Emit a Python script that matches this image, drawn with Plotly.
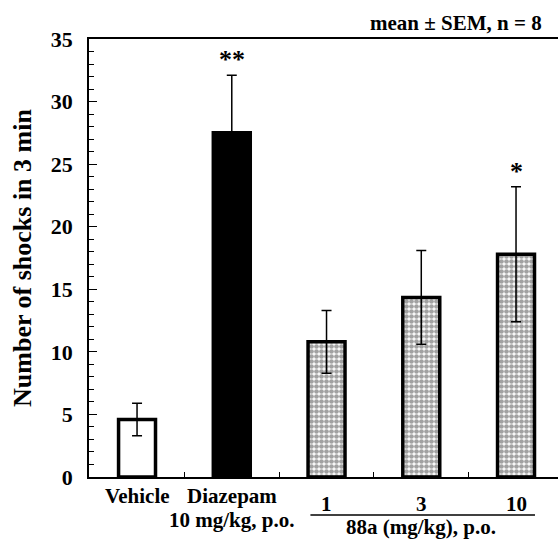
import plotly.graph_objects as go

# Group means and SEM (n = 8)
groups = ["Vehicle", "Diazepam", "88a 1", "88a 3", "88a 10"]
means = [4.6, 27.5, 10.8, 14.35, 17.8]
sems = [1.3, 4.6, 2.5, 3.75, 5.4]
stars = ["", "**", "", "", "*"]
dose_labels = ["1", "3", "10"]
y_ticks = [0, 5, 10, 15, 20, 25, 30, 35]

FONT = "Liberation Serif"
BOLD = dict(family=FONT, size=21, color="black", weight="bold")

xs = list(range(len(groups)))
fill_colors = ["white", "black", "white", "white", "white"]
shapes = ["", "", ".", ".", "."]

fig = go.Figure()
fig.add_trace(go.Bar(
    x=xs, y=means, width=0.39,
    marker=dict(
        color=fill_colors,
        line=dict(color="black", width=3.5),
        pattern=dict(shape=shapes, fgcolor="black", bgcolor="white",
                     size=5, solidity=0.7),
    ),
    error_y=dict(type="data", array=sems, visible=True, color="black",
                 thickness=1.5, width=5),
    showlegend=False,
))

annotations = []
# significance marks above the error bars
for x, m, s, st in zip(xs, means, sems, stars):
    if st:
        annotations.append(dict(x=x, y=m + s, xref="x", yref="y", text=st,
                                showarrow=False, yanchor="bottom", yshift=-1,
                                font=dict(family=FONT, size=26, color="black", weight="bold")))

# category labels under the axis
annotations += [
    dict(x=0, y=0, xref="x", yref="paper", text="Vehicle", showarrow=False,
         yanchor="middle", yshift=-19, font=BOLD),
    dict(x=1, y=0, xref="x", yref="paper", text="Diazepam", showarrow=False,
         yanchor="middle", yshift=-19, font=BOLD),
    dict(x=1, y=0, xref="x", yref="paper", text="10 mg/kg, p.o.", showarrow=False,
         yanchor="middle", yshift=-43, font=BOLD),
]
for x, lab in zip(xs[2:], dose_labels):
    annotations.append(dict(x=x, y=0, xref="x", yref="paper", text=lab, showarrow=False,
                            yanchor="middle", yshift=-27, font=BOLD))
annotations.append(dict(x=3, y=0, xref="x", yref="paper", text="88a (mg/kg), p.o.",
                        showarrow=False, yanchor="middle", yshift=-50, font=BOLD))
annotations.append(dict(x=1, y=1, xref="paper", yref="paper", text="mean ± SEM, n = 8",
                        showarrow=False, xanchor="right", yanchor="middle",
                        xshift=-14, yshift=16, font=BOLD))

fig.update_layout(
    width=558, height=539,
    margin=dict(l=89, r=0, t=39, b=62),
    paper_bgcolor="white", plot_bgcolor="white",
    annotations=annotations,
    shapes=[dict(type="line", xref="x", yref="paper", x0=1.83, x1=4.2,
                 y0=-0.087, y1=-0.087, line=dict(color="black", width=1.5))],
    xaxis=dict(
        range=[-0.507, 4.443], showgrid=False, zeroline=False,
        showline=True, linecolor="black", linewidth=1.5, mirror=True,
        tickmode="array", tickvals=[0.5, 1.5, 2.5, 3.5], ticktext=["", "", "", ""],
        ticks="inside", ticklen=5, tickwidth=1, tickcolor="black",
    ),
    yaxis=dict(
        range=[0, 35], showgrid=False, zeroline=False,
        showline=True, linecolor="black", linewidth=1.5,
        tickmode="array", tickvals=y_ticks,
        ticks="inside", ticklen=8, tickwidth=1, tickcolor="black",
        minor=dict(dtick=1, tick0=0, ticks="inside", ticklen=5, tickwidth=1, tickcolor="black"),
        tickfont=dict(family=FONT, size=22, color="black", weight="bold"),
        ticklabelstandoff=10,
        title=dict(text="Number of shocks in 3 min", standoff=12,
                   font=dict(family=FONT, size=26, color="black", weight="bold")),
    ),
)

fig.write_html("out.html")
